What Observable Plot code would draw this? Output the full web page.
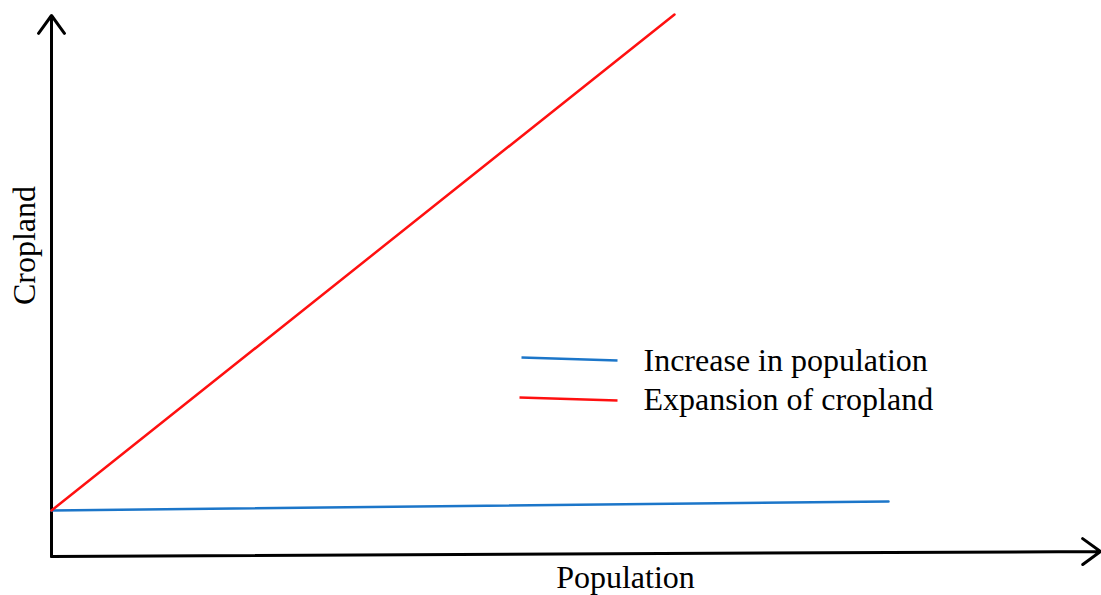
<!DOCTYPE html>
<html>
<head>
<meta charset="utf-8">
<script src="https://cdn.jsdelivr.net/npm/d3@7"></script>
<script src="https://cdn.jsdelivr.net/npm/@observablehq/plot@0.6"></script>
<style>
  html, body { margin: 0; padding: 0; background: #fff; }
  #chart svg { display: block; }
</style>
</head>
<body>
<div id="chart"></div>
<script>
// Arbitrary units: origin at the axis corner
const seriesNames = ["Increase in population", "Expansion of cropland"];
const seriesColors = ["#1c76c9", "#ff1010"];
const populationX = [[0, 837], [0, 623]];
const croplandY = [[46, 55], [46, 542]];

const axisX = {x1: 0, y1: 0, x2: 1049, y2: 5};
const axisY = {x1: 0, y1: 0, x2: 0, y2: 541};
const axisLabels = ["Population", "Cropland"];

// legend
const legendX1 = [470, 468];
const legendX2 = [566, 566];
const legendY1 = [199, 159];
const legendY2 = [196, 156];
const legendTextX = 592;
const legendTextY = [196, 157];

const lines = [];
seriesNames.forEach((name, i) => {
  populationX[i].forEach((x, j) => lines.push({series: name, x, y: croplandY[i][j]}));
});
const legend = seriesNames.map((name, i) => ({
  series: name, x1: legendX1[i], x2: legendX2[i], y1: legendY1[i], y2: legendY2[i],
  tx: legendTextX, ty: legendTextY[i]
}));

const font = "'Liberation Serif', 'Times New Roman', serif";

const chart = Plot.plot({
  width: 1101,
  height: 595,
  margin: 0,
  x: {domain: [-51, 1050], range: [0, 1101], axis: null},
  y: {domain: [-39, 556], range: [595, 0], axis: null},
  color: {domain: seriesNames, range: seriesColors},
  style: {fontFamily: font, background: "#fff"},
  marks: [
    Plot.arrow([axisY, axisX], {
      x1: "x1", y1: "y1", x2: "x2", y2: "y2",
      stroke: "#000", strokeWidth: 3, headLength: 11, headAngle: 72, bend: 0
    }),
    Plot.line(lines, {x: "x", y: "y", z: "series", stroke: "series", strokeWidth: 2.5}),
    Plot.link(legend, {x1: "x1", y1: "y1", x2: "x2", y2: "y2", stroke: "series", strokeWidth: 2.5}),
    Plot.text(legend, {x: "tx", y: "ty", text: "series", textAnchor: "start", lineAnchor: "middle",
      fontSize: 32, fill: "#000", fontFamily: font}),
    Plot.text([axisLabels[0]], {x: 574, y: -21, text: d => d, fontSize: 32, fill: "#000",
      lineAnchor: "middle", fontFamily: font}),
    Plot.text([axisLabels[1]], {x: -27, y: 311, text: d => d, fontSize: 32, fill: "#000",
      rotate: -90, lineAnchor: "middle", fontFamily: font})
  ]
});
document.getElementById("chart").append(chart);
</script>
</body>
</html>
